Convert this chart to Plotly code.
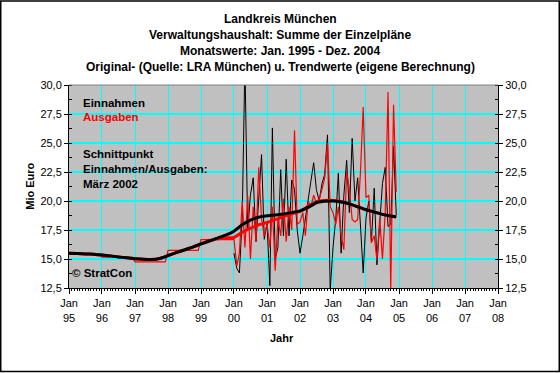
import plotly.graph_objects as go
import pandas as pd

# ---------------- data ----------------
# yearly original values before 2000 (Ausgaben shown as yearly steps)
pre_years = [1995, 1996, 1997, 1998, 1999]
ausgaben_pre_yearly = [15.45, 15.15, 14.75, 15.75, 16.67]

# monthly original values Jan 2000 - Dec 2004
einnahmen_monthly = [
    15.5, 14.2, 13.8, 18.5, 32.0, 17.5, 20.5, 22.0, 16.5, 20.0, 24.0, 16.7,   # 2000
    18.1, 12.7, 26.3, 15.0, 16.0, 22.7, 17.0, 23.6, 17.0, 21.8, 21.0, 17.5,   # 2001
    15.5, 17.0, 18.6, 20.2, 21.7, 23.3, 21.0, 20.0, 21.5, 22.3, 25.7, 12.3,   # 2002
    16.0, 18.5, 22.4, 15.5, 20.5, 23.5, 19.0, 25.4, 20.0, 22.0, 17.5, 13.8,   # 2003
    18.5, 20.0, 16.5, 21.1, 14.5, 18.0, 21.5, 22.9, 17.8, 18.0, 24.7, 18.8,   # 2004
]
ausgaben_monthly = [
    16.7, 14.4, 15.5, 20.0, 16.0, 20.4, 15.0, 19.5, 16.5, 22.9, 18.5, 17.0,   # 2000
    18.0, 16.0, 19.5, 14.0, 18.5, 17.0, 20.2, 16.5, 19.5, 17.5, 26.1, 18.0,   # 2001
    18.2, 19.0, 17.0, 20.0, 19.5, 20.5, 19.8, 20.2, 21.0, 22.0, 25.0, 19.5,   # 2002
    19.0, 18.0, 19.5, 17.0, 15.8, 22.6, 21.0, 18.4, 18.2, 18.4, 22.5, 28.1,   # 2003
    20.3, 20.5, 16.4, 17.0, 14.9, 18.5, 15.0, 19.0, 29.4, 12.3, 28.3, 20.8,   # 2004
]

# trend values (read quarterly)
trend_dates = [
    "1995-01", "1995-04", "1995-07", "1995-10", "1996-01", "1996-04", "1996-07", "1996-10",
    "1997-01", "1997-04", "1997-07", "1997-10", "1998-01", "1998-04", "1998-07", "1998-10",
    "1999-01", "1999-04", "1999-07", "1999-10", "2000-01", "2000-04", "2000-07", "2000-10",
    "2001-01", "2001-04", "2001-07", "2001-10", "2002-01", "2002-04", "2002-07", "2002-10",
    "2003-01", "2003-04", "2003-07", "2003-10", "2004-01", "2004-04", "2004-07", "2004-10",
    "2004-12",
]
trend_einnahmen = [
    15.50, 15.47, 15.44, 15.40, 15.34, 15.27, 15.18, 15.10,
    15.03, 14.98, 14.96, 15.05, 15.30, 15.55, 15.78, 16.03,
    16.30, 16.55, 16.80, 17.05, 17.40, 17.95, 18.35, 18.60,
    18.72, 18.80, 18.88, 19.00, 19.15, 19.45, 19.85, 19.97,
    20.00, 19.92, 19.75, 19.50, 19.25, 19.05, 18.85, 18.70,
    18.62,
]
trend_ausgaben = [
    15.50, 15.47, 15.44, 15.40, 15.34, 15.27, 15.18, 15.10,
    15.03, 14.98, 14.96, 15.05, 15.30, 15.55, 15.78, 16.03,
    16.30, 16.55, 16.75, 16.82, 16.85, 17.30, 17.65, 17.95,
    18.15, 18.40, 18.65, 18.90, 19.10, 19.55, 19.95, 20.05,
    20.05, 19.95, 19.75, 19.50, 19.25, 19.05, 18.85, 18.70,
    18.62,
]

# ---------------- build series ----------------
pre_dates = []
pre_ausgaben = []
for y, v in zip(pre_years, ausgaben_pre_yearly):
    for m in range(1, 13):
        pre_dates.append(f"{y}-{m:02d}-01")
        pre_ausgaben.append(v)

monthly_dates = [d.strftime("%Y-%m-%d") for d in pd.date_range("2000-01-01", periods=len(einnahmen_monthly), freq="MS")]
trend_x = [d + "-01" for d in trend_dates]

FONT = "Liberation Sans, Arial, sans-serif"
CYAN = "#00FFFF"

fig = go.Figure()
fig.add_trace(go.Scatter(x=monthly_dates, y=einnahmen_monthly, mode="lines",
                         line=dict(color="black", width=1), showlegend=False))
fig.add_trace(go.Scatter(x=pre_dates + monthly_dates, y=pre_ausgaben + ausgaben_monthly, mode="lines",
                         line=dict(color="#FF0000", width=1.2), showlegend=False))
fig.add_trace(go.Scatter(x=trend_x, y=trend_ausgaben, mode="lines",
                         line=dict(color="#FF0000", width=3, shape="spline", smoothing=0.5), showlegend=False))
fig.add_trace(go.Scatter(x=trend_x, y=trend_einnahmen, mode="lines",
                         line=dict(color="black", width=3, shape="spline", smoothing=0.5), showlegend=False))
# invisible trace for the right axis
fig.add_trace(go.Scatter(x=[trend_x[0]], y=[20], yaxis="y2", mode="lines",
                         line=dict(width=0), showlegend=False, hoverinfo="skip"))

L, R, T, B = 69, 498, 85, 288.5
W, H = 560, 373
pw, ph = R - L, B - T


def px(x):
    return (x - L) / pw


def py(y):
    return (B - y) / ph


yaxis_common = dict(
    range=[12.5, 30], dtick=2.5, tick0=12.5, tickformat=".1f",
    ticks="outside", ticklen=4, tickcolor="black", tickwidth=1,
    showline=True, linecolor="black", linewidth=1,
    tickfont=dict(family=FONT, size=11, color="black"),
    minor=dict(dtick=1.25, tick0=12.5, ticks="inside", ticklen=3, tickcolor="black", showgrid=False),
    zeroline=False, fixedrange=True,
)

fig.update_layout(
    width=W, height=H,
    margin=dict(l=L, r=W - R, t=T, b=H - B, pad=0),
    paper_bgcolor="white", plot_bgcolor="#C0C0C0",
    separators=",.",
    font=dict(family=FONT, size=11, color="black"),
    xaxis=dict(
        type="date", range=["1995-01-01", "2008-01-01"],
        tick0="1995-01-01", dtick="M12", tickformat="%b<br>%y",
        ticks="outside", ticklen=5, tickcolor="black",
        showline=True, linecolor="black", linewidth=1,
        showgrid=True, gridcolor=CYAN, gridwidth=1,
        minor=dict(dtick="M1", ticks="outside", ticklen=2, tickcolor="black", showgrid=False),
        tickfont=dict(family=FONT, size=11, color="black"),
        zeroline=False, fixedrange=True,
    ),
    yaxis=dict(showgrid=True, gridcolor=CYAN, gridwidth=1.5, **yaxis_common),
    yaxis2=dict(overlaying="y", side="right", showgrid=False, **yaxis_common),
)

ann = []
titles = [
    "Landkreis München",
    "Verwaltungshaushalt: Summe der Einzelpläne",
    "Monatswerte: Jan. 1995 - Dez. 2004",
    "Original- (Quelle: LRA München) u. Trendwerte (eigene Berechnung)",
]
for i, t in enumerate(titles):
    ann.append(dict(text=f"<b>{t}</b>", x=px(280), y=py(19 + 16 * i), xref="paper", yref="paper",
                    xanchor="center", yanchor="middle", showarrow=False,
                    font=dict(family=FONT, size=12, color="black")))

inner = [
    ("Einnahmen", 102.7, "black"),
    ("Ausgaben", 117.3, "#FF0000"),
    ("Schnittpunkt", 154, "black"),
    ("Einnahmen/Ausgaben:", 169, "black"),
    ("März 2002", 184.3, "black"),
]
for t, yy, c in inner:
    ann.append(dict(text=f"<b>{t}</b>", x=px(80.5), y=py(yy), xref="paper", yref="paper",
                    xanchor="left", yanchor="middle", showarrow=False,
                    font=dict(family=FONT, size=11.5, color=c)))
ann.append(dict(text="<b>© StratCon</b>", x=px(70), y=py(273.3), xref="paper", yref="paper",
                xanchor="left", yanchor="middle", showarrow=False,
                font=dict(family=FONT, size=11.5, color="black")))
ann.append(dict(text="<b>Jahr</b>", x=px(282), y=py(339), xref="paper", yref="paper",
                xanchor="center", yanchor="middle", showarrow=False,
                font=dict(family=FONT, size=11, color="black")))
ann.append(dict(text="<b>Mio Euro</b>", x=px(30), y=py(187), xref="paper", yref="paper",
                xanchor="center", yanchor="middle", showarrow=False, textangle=-90,
                font=dict(family=FONT, size=11, color="black")))
fig.update_layout(annotations=ann)

shapes = [
    # gray top border of plot area
    dict(type="line", xref="paper", yref="paper", x0=0, x1=1, y0=1, y1=1,
         line=dict(color="#808080", width=1), layer="above"),
    # outer black frame of the chart
    dict(type="rect", xref="paper", yref="paper",
         x0=px(0.75), x1=px(W - 0.75), y0=py(H - 0.75), y1=py(0.75),
         line=dict(color="black", width=1.5), layer="above"),
]
fig.update_layout(shapes=shapes)

fig.write_html("out.html", config={"displayModeBar": False},
               post_script="document.body.style.margin='0px';")
